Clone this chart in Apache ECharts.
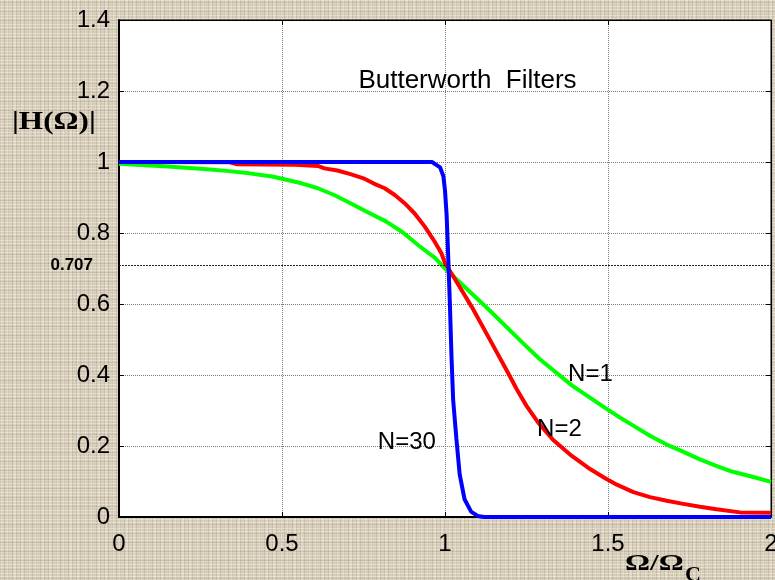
<!DOCTYPE html>
<html>
<head>
<meta charset="utf-8">
<script src="https://cdn.jsdelivr.net/npm/echarts@6/dist/echarts.min.js"></script>
<style>
  html, body { margin: 0; padding: 0; }
  body {
    width: 775px; height: 580px; overflow: hidden;
    background-color: #d6ccb7;
    background-image:
      repeating-linear-gradient(0deg, rgba(255,253,245,0.35) 0px, rgba(255,253,245,0.35) 1px, rgba(0,0,0,0) 1px, rgba(0,0,0,0) 3px),
      repeating-linear-gradient(90deg, rgba(105,90,65,0.16) 0px, rgba(105,90,65,0.16) 1px, rgba(0,0,0,0) 1px, rgba(0,0,0,0) 4px),
      repeating-linear-gradient(0deg, rgba(105,90,65,0.12) 0px, rgba(105,90,65,0.12) 2px, rgba(0,0,0,0) 2px, rgba(0,0,0,0) 9px),
      repeating-linear-gradient(90deg, rgba(255,255,255,0.22) 0px, rgba(255,255,255,0.22) 2px, rgba(0,0,0,0) 2px, rgba(0,0,0,0) 7px);
  }
  #chart { width: 775px; height: 580px; }
</style>
</head>
<body>
<div id="chart"></div>
<script>
// Normalised frequency (Ω/Ωc) and magnitude |H(Ω)| for each filter order
const n1Omega = [0, 0.15, 0.26, 0.33, 0.40, 0.47, 0.50, 0.56, 0.61, 0.66, 0.71, 0.76, 0.82, 0.87, 0.92, 0.97, 1.00, 1.13, 1.24, 1.29, 1.39, 1.49, 1.53, 1.58, 1.63, 1.68, 1.73, 1.78, 1.83, 1.88, 1.94, 2.0];
const n1Mag   = [0.995, 0.987, 0.980, 0.975, 0.968, 0.959, 0.953, 0.940, 0.926, 0.907, 0.884, 0.860, 0.832, 0.802, 0.764, 0.729, 0.700, 0.588, 0.489, 0.445, 0.370, 0.308, 0.284, 0.256, 0.228, 0.204, 0.184, 0.163, 0.145, 0.128, 0.114, 0.099];

const n2Omega = [0, 0.34, 0.36, 0.54, 0.61, 0.63, 0.67, 0.71, 0.75, 0.78, 0.815, 0.846, 0.876, 0.907, 0.938, 0.968, 0.989, 1.0, 1.02, 1.082, 1.138, 1.194, 1.22, 1.25, 1.286, 1.332, 1.389, 1.445, 1.49, 1.527, 1.578, 1.629, 1.68, 1.731, 1.782, 1.833, 1.905, 2.0];
const n2Mag   = [1.0, 0.999, 0.994, 0.992, 0.989, 0.982, 0.976, 0.966, 0.954, 0.940, 0.926, 0.907, 0.884, 0.855, 0.818, 0.776, 0.743, 0.715, 0.686, 0.592, 0.499, 0.405, 0.360, 0.313, 0.266, 0.217, 0.172, 0.135, 0.110, 0.091, 0.070, 0.056, 0.046, 0.037, 0.029, 0.022, 0.013, 0.012];

const n30Omega = [0, 0.96, 0.985, 0.995, 1.0, 1.005, 1.008, 1.015, 1.02, 1.025, 1.035, 1.045, 1.06, 1.08, 1.1, 1.12, 2.0];
const n30Mag   = [1.0, 1.0, 0.985, 0.96, 0.92, 0.85, 0.78, 0.60, 0.45, 0.33, 0.22, 0.12, 0.05, 0.015, 0.003, 0, 0];

// Axis ranges and ticks
const xTicks = [0, 0.5, 1, 1.5, 2];
const yTicks = [0, 0.2, 0.4, 0.6, 0.8, 1, 1.2, 1.4];
const halfPowerLevel = 0.707;

// Annotation text placed in data coordinates
const curveNotes = [
  { text: 'N=1',  at: [1.446, 0.401] },
  { text: 'N=2',  at: [1.351, 0.246] },
  { text: 'N=30', at: [0.883, 0.209] }
];
const plotTitle = { text: 'Butterworth  Filters', at: [1.069, 1.230] };

const pairs = (xs, ys) => xs.map((x, i) => [x, ys[i]]);

const SANS = '"Liberation Sans", Arial, sans-serif';
const SERIF = '"Liberation Serif", "Times New Roman", serif';

function noteMark(note, size) {
  return {
    coord: note.at,
    symbol: 'circle',
    symbolSize: 1,
    itemStyle: { color: 'rgba(0,0,0,0)' },
    label: {
      show: true, position: 'inside', formatter: note.text,
      color: '#000', fontFamily: SANS, fontSize: size
    }
  };
}

const chart = echarts.init(document.getElementById('chart'), null, { renderer: 'canvas' });

const tickAxisX = {
  type: 'value', min: xTicks[0], max: xTicks[xTicks.length - 1], interval: 0.5
};
const tickAxisY = {
  type: 'value', min: yTicks[0], max: yTicks[yTicks.length - 1], interval: 0.2
};

chart.setOption({
  backgroundColor: 'transparent',
  animation: false,
  grid: {
    left: 119, right: 4, top: 20, bottom: 63,
    outerBoundsMode: 'none', containLabel: false,
    show: true, backgroundColor: '#ffffff', borderColor: '#000', borderWidth: 1
  },
  xAxis: [
    Object.assign({}, tickAxisX, {
      position: 'bottom',
      axisLine: { show: true, onZero: false, lineStyle: { color: '#000', width: 2 } },
      axisTick: { show: true, inside: true, length: 5, lineStyle: { color: '#000' } },
      axisLabel: { show: true, color: '#000', fontFamily: SANS, fontSize: 24, margin: 15 },
      splitLine: { show: true, lineStyle: { color: '#7a7a7a', width: 1, type: [1, 1] } }
    }),
    Object.assign({}, tickAxisX, {
      position: 'top',
      axisLine: { show: true, onZero: false, lineStyle: { color: '#000', width: 1 } },
      axisTick: { show: true, inside: true, length: 5, lineStyle: { color: '#000' } },
      axisLabel: { show: false },
      splitLine: { show: false }
    })
  ],
  yAxis: [
    Object.assign({}, tickAxisY, {
      position: 'left',
      axisLine: { show: true, onZero: false, lineStyle: { color: '#000', width: 2 } },
      axisTick: { show: true, inside: true, length: 5, lineStyle: { color: '#000' } },
      axisLabel: { show: true, color: '#000', fontFamily: SANS, fontSize: 24, margin: 9 },
      splitLine: { show: true, lineStyle: { color: '#7a7a7a', width: 1, type: [1, 1] } }
    }),
    Object.assign({}, tickAxisY, {
      position: 'right',
      axisLine: { show: true, onZero: false, lineStyle: { color: '#000', width: 1 } },
      axisTick: { show: true, inside: true, length: 5, lineStyle: { color: '#000' } },
      axisLabel: { show: false },
      splitLine: { show: false }
    })
  ],
  series: [
    {
      name: 'N=1', type: 'line', data: pairs(n1Omega, n1Mag),
      showSymbol: false, clip: false, silent: true,
      lineStyle: { color: '#00ff00', width: 4 },
      markLine: {
        silent: true, symbol: ['none', 'none'],
        lineStyle: { color: '#222', width: 1, type: [2, 1] },
        label: {
          show: true, position: 'start', distance: 26, formatter: '0.707',
          color: '#000', fontFamily: SANS, fontWeight: 'bold', fontSize: 17
        },
        data: [{ yAxis: halfPowerLevel }]
      },
      markPoint: { silent: true, data: [noteMark(curveNotes[0], 24), noteMark(plotTitle, 26)] }
    },
    {
      name: 'N=2', type: 'line', data: pairs(n2Omega, n2Mag),
      showSymbol: false, clip: false, silent: true,
      lineStyle: { color: '#ff0000', width: 4 },
      markPoint: { silent: true, data: [noteMark(curveNotes[1], 24)] }
    },
    {
      name: 'N=30', type: 'line', data: pairs(n30Omega, n30Mag),
      showSymbol: false, clip: false, silent: true,
      lineStyle: { color: '#0000ff', width: 4 },
      markPoint: { silent: true, data: [noteMark(curveNotes[2], 24)] }
    }
  ],
  graphic: [
    {
      type: 'text', left: 12, top: 109, scaleX: 1.2, silent: true,
      style: { text: '|H(Ω)|', fill: '#000', font: 'bold 26px ' + SERIF }
    },
    {
      type: 'text', left: 625, top: 552, scaleX: 1.3, silent: true,
      style: { text: 'Ω/Ω', fill: '#000', font: 'bold 24px ' + SERIF }
    },
    {
      type: 'text', left: 685, top: 564, silent: true,
      style: { text: 'C', fill: '#000', font: 'bold 22px ' + SERIF }
    }
  ]
});
</script>
</body>
</html>
